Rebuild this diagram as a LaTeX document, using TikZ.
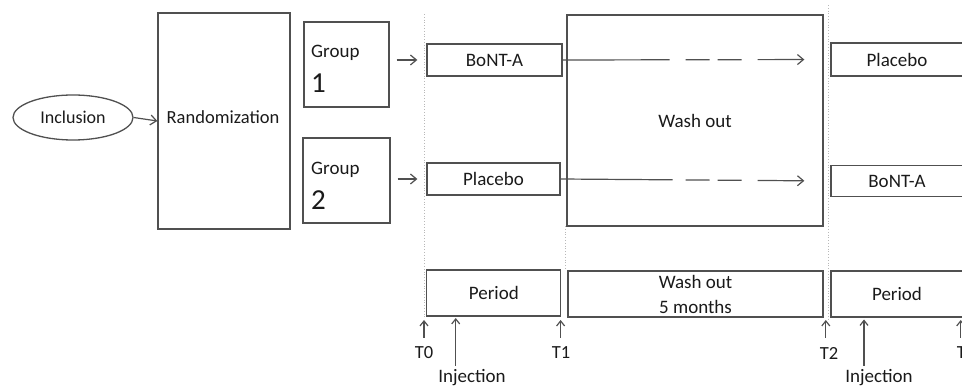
\documentclass[tikz,border=0pt]{standalone}
\usepackage{fontspec}
\setmainfont{Carlito}
\usetikzlibrary{shapes.geometric,arrows.meta}
\definecolor{lc}{HTML}{505050}
\definecolor{tc}{HTML}{1A1A1A}
\definecolor{dc}{HTML}{B8B8B8}
\begin{document}
\begin{tikzpicture}[x=1pt,y=-1pt,
  box/.style={draw=lc,line width=1.3pt,rectangle,inner sep=0pt,text=tc,font=\fontsize{19}{23}\selectfont},
  txt/.style={inner sep=0pt,text=tc,font=\fontsize{19}{23}\selectfont},
  tlab/.style={inner sep=0pt,text=tc,font=\fontsize{18.5}{20}\selectfont},
  arr/.style={draw=lc,line width=1.2pt,-{Straight Barb[length=6pt,width=10pt]}},
  varr/.style={draw=lc,line width=1.2pt,-{Straight Barb[length=5pt,width=8pt]}},
  guide/.style={draw=dc,line width=0.8pt,dotted}]
\useasboundingbox (0,0) rectangle (962,387);
\clip (0,0) rectangle (962,387);
% guides
\coordinate (d0a) at (424,14); \coordinate (d0b) at (424,318);
\coordinate (d1a) at (565,226); \coordinate (d1b) at (565,270);
\coordinate (d2a) at (828,5); \coordinate (d2b) at (828,320);
\draw[guide] (d0a) -- (d0b);
\draw[guide] (d1a) -- (d1b);
\draw[guide] (d2a) -- (d2b);
% nodes
\node[draw=lc,line width=1.3pt,ellipse,minimum width=120pt,minimum height=45pt,inner sep=0pt,text=tc,font=\fontsize{18}{22}\selectfont] (incl) at (73,117.5) {Inclusion};
\node[box,minimum width=132pt,minimum height=216pt] (rand) at (224,121) {};
\node[txt,font=\fontsize{18.5}{22}\selectfont] (randt) at (223,117) {Randomization};
\node[box,minimum width=85pt,minimum height=85pt] (g1) at (346.5,64.5) {};
\node[txt,anchor=west] (g1a) at (311,53) {Group};
\node[txt,anchor=west,font=\fontsize{29}{32}\selectfont] (g1b) at (311,83) {1};
\node[box,minimum width=87pt,minimum height=85pt] (g2) at (346.5,180.5) {};
\node[txt,anchor=west] (g2a) at (311,170) {Group};
\node[txt,anchor=west,font=\fontsize{29}{32}\selectfont] (g2b) at (311,200) {2};
\node[box,minimum width=135pt,minimum height=32pt] (b1) at (494.5,60) {BoNT-A};
\node[box,minimum width=133pt,minimum height=32pt] (p1) at (493.5,179) {Placebo};
\node[box,minimum width=256pt,minimum height=211pt] (wash) at (695,120.5) {Wash out};
\node[box,minimum width=132pt,minimum height=33pt] (p2) at (897,59.5) {Placebo};
\node[box,minimum width=132pt,minimum height=31pt] (b2) at (897,181) {BoNT-A};
\node[box,minimum width=134pt,minimum height=46pt] (per1) at (493.8,293) {Period};
\node[box,minimum width=255pt,minimum height=46pt,align=center,font=\fontsize{19}{25}\selectfont] (wo) at (695.5,294) {Wash out\\5 months};
\node[box,minimum width=132pt,minimum height=46pt] (per2) at (897,294) {Period};
% time labels
\node[tlab] (t0) at (424,353) {T0};
\node[tlab] (t1) at (561,353) {T1};
\node[tlab] (t2) at (829,353) {T2};
\node[tlab] (t3) at (966,353) {T3};
\node[txt,anchor=base] (inj1) at (472,383) {Injection};
\node[txt,anchor=base] (inj2) at (879,383) {Injection};
% connectors
\draw[arr] (incl.east) -- (rand.west);
\draw[arr,shorten <=7pt,shorten >=9pt] (g1.east |- b1.west) -- (b1.west);
\draw[arr,shorten <=7pt,shorten >=9pt] (g2.east |- p1.west) -- (p1.west);
\draw[arr,shorten >=26pt,dash pattern=on 107pt off 16pt on 24pt off 8pt on 24pt off 16pt on 100pt] (b1.east) -- (p2.west);
\draw[arr,shorten >=26pt,dash pattern=on 112pt off 13pt on 24pt off 8pt on 24pt off 16pt on 100pt] (p1.east) -- (b2.west);
% time arrows
\coordinate (a0) at (424,320);
\coordinate (a1) at (560.6,320);
\coordinate (a2) at (825.8,320);
\coordinate (a3) at (960.7,320);
\coordinate (ai1) at (455.7,318);
\coordinate (ai2) at (864,319.5);
\draw[varr] (a0 |- 0,338) -- (a0);
\draw[varr] (a1 |- 0,338) -- (a1);
\draw[varr] (a2 |- 0,338) -- (a2);
\draw[varr] (a3 |- 0,338) -- (a3);
\draw[varr] (ai1 |- 0,366) -- (ai1);
\draw[varr] (ai2 |- 0,366) -- (ai2);
\end{tikzpicture}
\end{document}
